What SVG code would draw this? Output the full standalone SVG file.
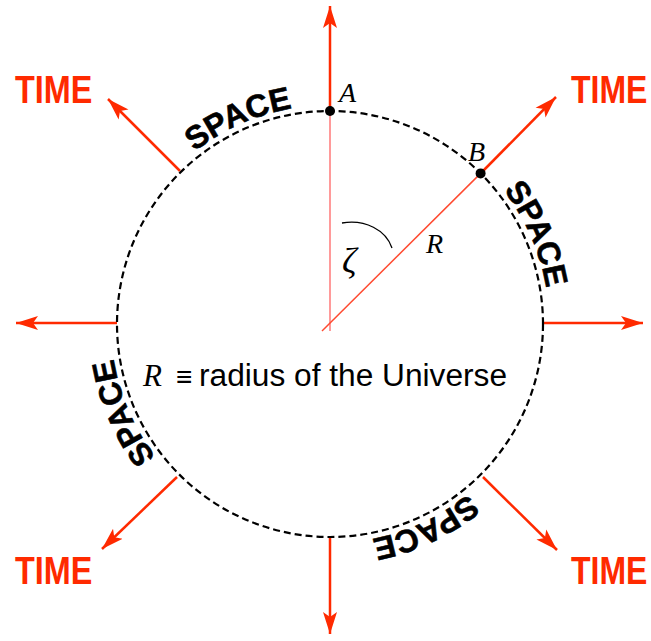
<svg xmlns="http://www.w3.org/2000/svg" xmlns:xlink="http://www.w3.org/1999/xlink" width="651" height="641" viewBox="0 0 651 641">
<style>
.time{font-family:"Liberation Sans",Arial,sans-serif;font-weight:bold;font-size:39px;fill:#ff2a00}
.space{font-family:"Liberation Sans",Arial,sans-serif;font-weight:bold;font-size:32px;fill:#000;stroke:#000;stroke-width:0.6}
.arr{stroke:#ff2a00;stroke-width:2.5;fill:none;marker-end:url(#ah)}
.it{font-family:"Liberation Serif","Times New Roman",serif;font-style:italic;fill:#000}
.lbl{font-family:"Liberation Sans",Arial,sans-serif;fill:#000}
</style>
<defs>
<marker id="ah" markerUnits="userSpaceOnUse" markerWidth="24" markerHeight="16" viewBox="0 0 24 16" refX="22" refY="8" orient="auto">
<path d="M0,1 L22,8 L0,15 L5,8 z" fill="#ff2a00"/>
</marker>
<path id="tp" d="M330,105 A219,219 0 1,1 330,543 A219,219 0 1,1 330,105"/>
</defs>
<rect width="651" height="641" fill="#fff"/>
<g id="connectors">
<line x1="330" y1="331" x2="330" y2="111" stroke="#ff9a9a" stroke-width="2"/>
<line x1="322" y1="331" x2="480.6" y2="173.4" stroke="#ff4a30" stroke-width="1.5"/>
<line class="arr" x1="330" y1="108" x2="330" y2="6"/>
<line class="arr" x1="330" y1="538" x2="330" y2="634"/>
<line class="arr" x1="117" y1="323" x2="16" y2="323"/>
<line class="arr" x1="543" y1="323" x2="643" y2="323"/>
<line class="arr" x1="180" y1="171" x2="108" y2="99"/>
<line class="arr" x1="483" y1="171" x2="556" y2="97"/>
<line class="arr" x1="177" y1="477" x2="102" y2="549"/>
<line class="arr" x1="483" y1="477" x2="557" y2="550"/>
</g>
<g id="universe">
<circle cx="330" cy="324" r="213" fill="none" stroke="#000" stroke-width="2.2" stroke-dasharray="7 4"/>
</g>
<g id="pointA">
<circle cx="330" cy="111" r="5" fill="#000"/>
<text class="it" x="339" y="102" font-size="28">A</text>
</g>
<g id="pointB">
<circle cx="480.6" cy="173.4" r="5" fill="#000"/>
<text class="it" x="468" y="161" font-size="28">B</text>
</g>
<g id="angle">
<path d="M342,223 C365,219 386,230 392,248" fill="none" stroke="#000" stroke-width="1.3"/>
<text class="it" x="342" y="273" font-size="36">ζ</text>
<text class="it" x="426" y="253" font-size="28">R</text>
</g>
<g id="caption">
<text class="it" x="143" y="386" font-size="31">R</text>
<text class="lbl" x="176" y="386" font-size="28">≡</text>
<text class="lbl" x="199" y="386" font-size="31" textLength="308" lengthAdjust="spacingAndGlyphs">radius of the Universe</text>
</g>
<g id="time-labels">
<text class="time" transform="translate(15,103) scale(0.83,1)">TIME</text>
<text class="time" transform="translate(571,103) scale(0.82,1)">TIME</text>
<text class="time" transform="translate(15,584) scale(0.83,1)">TIME</text>
<text class="time" transform="translate(571,584) scale(0.82,1)">TIME</text>
</g>
<g id="space-labels">
<text class="space" text-anchor="middle"><textPath xlink:href="#tp" startOffset="1284">SPACE</textPath></text>
<text class="space" text-anchor="middle"><textPath xlink:href="#tp" startOffset="254">SPACE</textPath></text>
<text class="space" text-anchor="middle"><textPath xlink:href="#tp" startOffset="592">SPACE</textPath></text>
<text class="space" text-anchor="middle"><textPath xlink:href="#tp" startOffset="943">SPACE</textPath></text>
</g>
</svg>
